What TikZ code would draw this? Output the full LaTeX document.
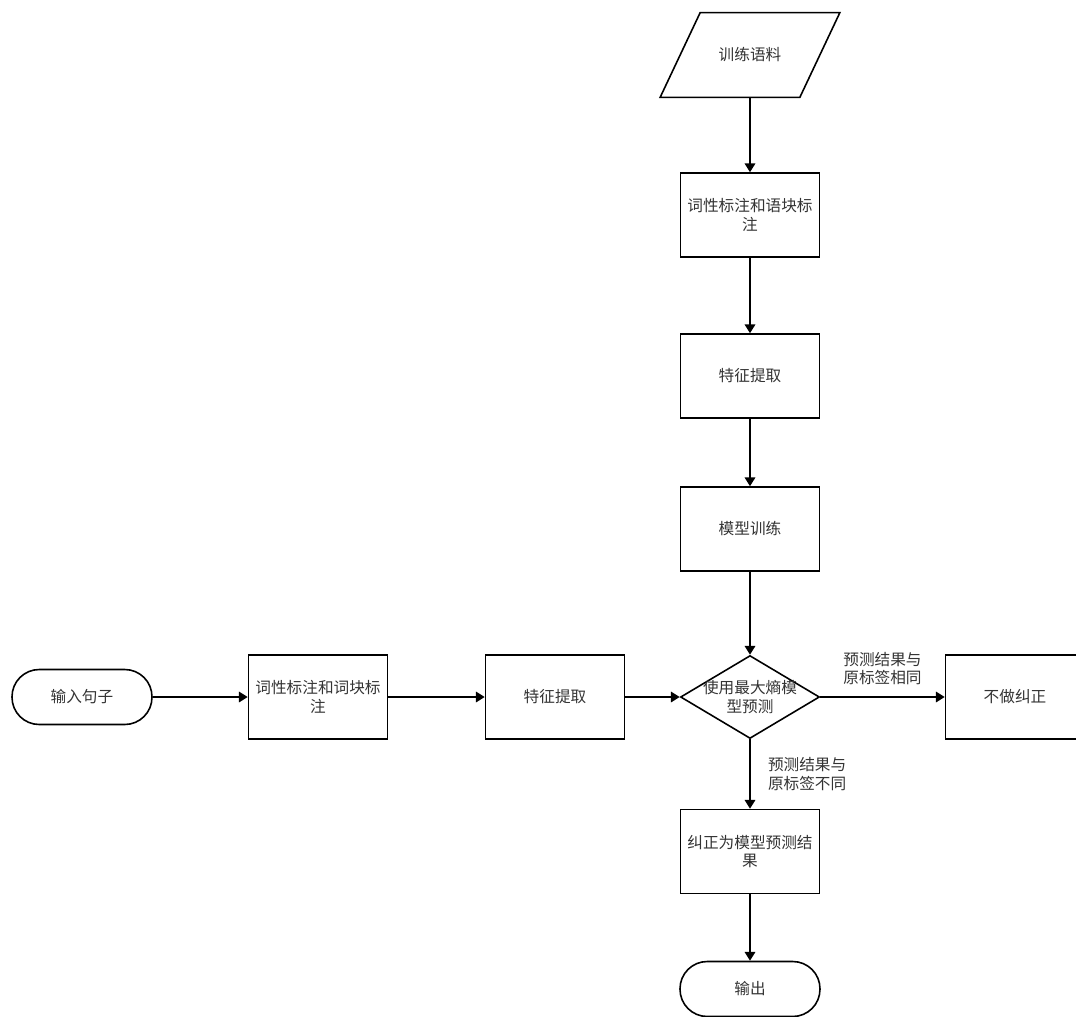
\documentclass[tikz,border=0pt]{standalone}
\usepackage{fontspec}
\newfontfamily\cjk{Noto Sans CJK SC}
\usetikzlibrary{arrows.meta,positioning,shapes.geometric}

\begin{document}
\begin{tikzpicture}[
    font=\cjk\fontsize{8.9}{10.6}\selectfont,
    every node/.style={text=black!80},
    procbox/.style={rectangle,draw,line width=0.9pt,minimum width=2.78cm,minimum height=1.68cm,align=center},
    termbox/.style={rectangle,draw,line width=0.9pt,rounded corners=15.5pt,minimum width=2.8cm,minimum height=1.1cm},
    flow/.style={line width=0.9pt,-{Triangle[length=5pt,width=6pt]}}
  ]
      \useasboundingbox (0,0) rectangle (21.52,-20.34);
      \clip (0,0) rectangle (21.52,-20.34);
      % training branch
      \node[minimum width=2.78cm,minimum height=1.68cm] (train) at (15,-1.1) {训练语料};
      \draw[line width=0.9pt] ([xshift=0.4cm]train.north west) -- ([xshift=0.4cm]train.north east)
        -- ([xshift=-0.4cm]train.south east) -- ([xshift=-0.4cm]train.south west) -- cycle;
      \node[procbox] (tag) at (15,-4.3) {词性标注和语块标\\注};
      \node[procbox] (feat) at (15,-7.52) {特征提取};
      \node[procbox] (model) at (15,-10.58) {模型训练};
      \node[diamond,draw,line width=0.9pt,shape aspect=1.67,minimum width=2.78cm,minimum height=1.66cm,inner sep=-4pt,align=center] (pred) at (15,-13.94) {使用最大熵模\\型预测};
      \node[procbox] (nofix) at (20.3,-13.94) {不做纠正};
      \node[procbox] (fix) at (15,-17.03) {纠正为模型预测结\\果};
      \node[termbox] (out) at (15,-19.78) {输出};
      % input branch
      \node[termbox] (input) at (1.64,-13.94) {输入句子};
      \node[procbox] (tagin) at (6.36,-13.94) {词性标注和词块标\\注};
      \node[procbox] (featin) at (11.1,-13.94) {特征提取};

      \draw[flow] (train) -- (tag);
      \draw[flow] (tag) -- (feat);
      \draw[flow] (feat) -- (model);
      \draw[flow] (model) -- (pred);
      \draw[flow] (input) -- (tagin);
      \draw[flow] (tagin) -- (featin);
      \draw[flow] (featin) -- (pred);
      \draw[flow] (pred) -- node[above=3pt,align=center] {预测结果与\\原标签相同} (nofix);
      \draw[flow] (pred) -- node[right=6.5pt,align=center] {预测结果与\\原标签不同} (fix);
      \draw[flow] (fix) -- (out);
\end{tikzpicture}
\end{document}
